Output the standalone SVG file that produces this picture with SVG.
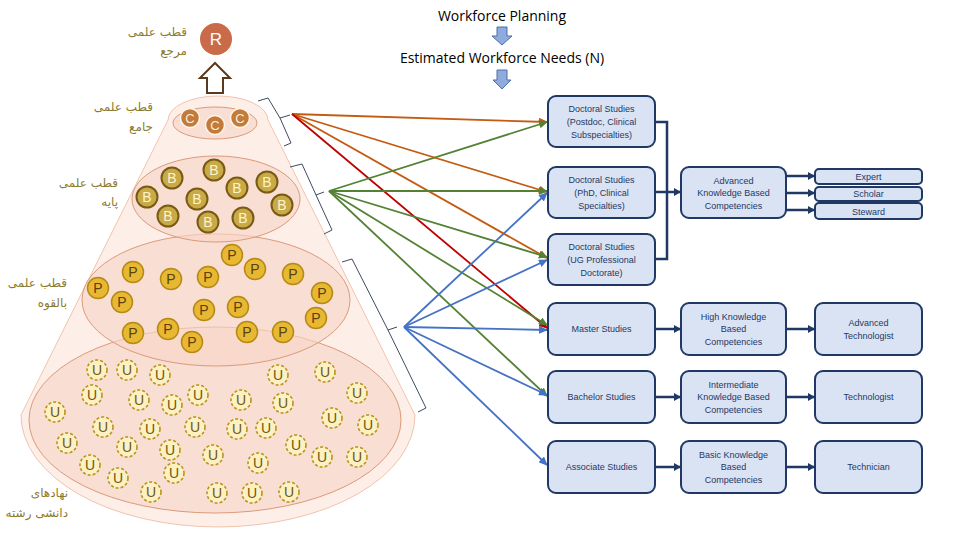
<svg xmlns="http://www.w3.org/2000/svg" width="960" height="540" viewBox="0 0 960 540">
<defs>
<style>
.fa{font-family:"DejaVu Sans","Noto Sans",sans-serif;font-size:12px;fill:#8c7b2e;text-anchor:end}
.ttl{font-family:"Open Sans","Liberation Sans",sans-serif;font-size:14px;fill:#000;text-anchor:middle}
.box{fill:#dae3f3;stroke:#1f3864;stroke-width:2}
.bt{font-family:"Liberation Sans",Arial,sans-serif;font-size:9px;fill:#1f3864;text-anchor:middle}
.lv{fill:#f8d6c8;fill-opacity:0.65;stroke:#dc9a7a;stroke-width:1}
.c circle{fill:#c27b3a;stroke:#fff6ea;stroke-width:1.5}
.c text{font-family:"Liberation Sans",sans-serif;font-size:13px;fill:#fbeed8;text-anchor:middle}
.b circle{fill:#c9aa48;stroke:#7a5a12;stroke-width:2}
.b text{font-family:"Liberation Sans",sans-serif;font-size:14px;fill:#fbf3cc;text-anchor:middle}
.p circle{fill:#e8b833;stroke:#b48a14;stroke-width:1.5}
.p text{font-family:"Liberation Sans",sans-serif;font-size:14px;fill:#5a4210;text-anchor:middle}
.u circle{fill:#fdf1c4;stroke:#b8941a;stroke-width:1.6;stroke-dasharray:3 2}
.u text{font-family:"Liberation Sans",sans-serif;font-size:14px;fill:#6e5a10;text-anchor:middle}
.nv{fill:none;stroke:#1f3864;stroke-width:2.5}
.br{fill:none;stroke:#3d4b5f;stroke-width:1}
</style>
<marker id="mN" markerWidth="7" markerHeight="8" refX="6" refY="4" orient="auto" markerUnits="userSpaceOnUse"><path d="M0,0 L7,4 L0,8 z" fill="#1f3864"/></marker>
<marker id="mO" markerWidth="9" markerHeight="8" refX="8" refY="4" orient="auto" markerUnits="userSpaceOnUse"><path d="M0,0 L9,4 L0,8 z" fill="#c55a11"/></marker>
<marker id="mR" markerWidth="9" markerHeight="8" refX="8" refY="4" orient="auto" markerUnits="userSpaceOnUse"><path d="M0,0 L9,4 L0,8 z" fill="#c00000"/></marker>
<marker id="mG" markerWidth="9" markerHeight="8" refX="8" refY="4" orient="auto" markerUnits="userSpaceOnUse"><path d="M0,0 L9,4 L0,8 z" fill="#548235"/></marker>
<marker id="mB" markerWidth="9" markerHeight="8" refX="8" refY="4" orient="auto" markerUnits="userSpaceOnUse"><path d="M0,0 L9,4 L0,8 z" fill="#4472c4"/></marker>
</defs>
<rect width="960" height="540" fill="#fff"/>

<!-- cone -->
<g id="cone">
<path d="M168,120 A50,24 0 0 1 268,120 L415,415 A197,112 0 0 1 21,415 Z" fill="#fce8df" fill-opacity="0.75" stroke="#f0c4ae" stroke-width="1"/>
<ellipse class="lv" cx="215" cy="420" rx="186" ry="93"/>
<ellipse class="lv" cx="216" cy="300" rx="134" ry="66"/>
<ellipse class="lv" cx="216" cy="199" rx="84" ry="43"/>
<ellipse class="lv" cx="215" cy="123" rx="42" ry="16"/>
</g>

<!-- R and arrow -->
<g id="R">
<circle cx="216" cy="39" r="16" fill="#c96a48"/>
<text x="216" y="45" font-family="Liberation Sans,sans-serif" font-size="17" fill="#fff" text-anchor="middle">R</text>
</g>
<g id="upArrow">
<path d="M207,93 L207,78 L200,78 L215,63 L230,78 L223,78 L223,93 Z" fill="#fff" stroke="#5a3a1e" stroke-width="2"/>
</g>

<!-- Persian labels -->
<g id="labels">
<text class="fa" x="187" y="36">قطب علمی</text>
<text class="fa" x="187" y="55">مرجع</text>
<text class="fa" x="153" y="111">قطب علمی</text>
<text class="fa" x="153" y="131">جامع</text>
<text class="fa" x="118" y="187">قطب علمی</text>
<text class="fa" x="118" y="206">پایه</text>
<text class="fa" x="67" y="287">قطب علمی</text>
<text class="fa" x="67" y="307">بالقوه</text>
<text class="fa" x="68" y="497">نهادهای</text>
<text class="fa" x="68" y="517">دانشی رشته</text>
</g>

<!-- C -->
<g id="C" class="c">
<circle cx="190" cy="118" r="9.5"/><text x="190" y="123">C</text>
<circle cx="215" cy="125" r="9.5"/><text x="215" y="130">C</text>
<circle cx="240" cy="118" r="9.5"/><text x="240" y="123">C</text>
</g>

<!-- B -->
<g id="B" class="b">
<circle cx="172" cy="178" r="10.5"/><text x="172" y="183">B</text>
<circle cx="214" cy="170" r="10.5"/><text x="214" y="175">B</text>
<circle cx="147" cy="197" r="10.5"/><text x="147" y="202">B</text>
<circle cx="197" cy="199" r="10.5"/><text x="197" y="204">B</text>
<circle cx="237" cy="188" r="10.5"/><text x="237" y="193">B</text>
<circle cx="267" cy="182" r="10.5"/><text x="267" y="187">B</text>
<circle cx="168" cy="216" r="10.5"/><text x="168" y="221">B</text>
<circle cx="208" cy="222" r="10.5"/><text x="208" y="227">B</text>
<circle cx="243" cy="218" r="10.5"/><text x="243" y="223">B</text>
<circle cx="282" cy="205" r="10.5"/><text x="282" y="210">B</text>
</g>

<!-- P -->
<g id="P" class="p">
<circle cx="232" cy="255" r="10.5"/><text x="232" y="260">P</text>
<circle cx="133" cy="272" r="10.5"/><text x="133" y="277">P</text>
<circle cx="171" cy="279" r="10.5"/><text x="171" y="284">P</text>
<circle cx="208" cy="277" r="10.5"/><text x="208" y="282">P</text>
<circle cx="255" cy="269" r="10.5"/><text x="255" y="274">P</text>
<circle cx="293" cy="274" r="10.5"/><text x="293" y="279">P</text>
<circle cx="98" cy="288" r="10.5"/><text x="98" y="293">P</text>
<circle cx="122" cy="302" r="10.5"/><text x="122" y="307">P</text>
<circle cx="322" cy="293" r="10.5"/><text x="322" y="298">P</text>
<circle cx="204" cy="310" r="10.5"/><text x="204" y="315">P</text>
<circle cx="238" cy="307" r="10.5"/><text x="238" y="312">P</text>
<circle cx="316" cy="318" r="10.5"/><text x="316" y="323">P</text>
<circle cx="133" cy="333" r="10.5"/><text x="133" y="338">P</text>
<circle cx="168" cy="329" r="10.5"/><text x="168" y="334">P</text>
<circle cx="192" cy="342" r="10.5"/><text x="192" y="347">P</text>
<circle cx="247" cy="332" r="10.5"/><text x="247" y="337">P</text>
<circle cx="283" cy="332" r="10.5"/><text x="283" y="337">P</text>
</g>

<!-- U -->
<g id="U" class="u">
<circle cx="97" cy="370" r="10"/><text x="97" y="375">U</text>
<circle cx="127" cy="370" r="10"/><text x="127" y="375">U</text>
<circle cx="160" cy="375" r="10"/><text x="160" y="380">U</text>
<circle cx="278" cy="375" r="10"/><text x="278" y="380">U</text>
<circle cx="325" cy="372" r="10"/><text x="325" y="377">U</text>
<circle cx="92" cy="395" r="10"/><text x="92" y="400">U</text>
<circle cx="139" cy="400" r="10"/><text x="139" y="405">U</text>
<circle cx="172" cy="405" r="10"/><text x="172" y="410">U</text>
<circle cx="198" cy="395" r="10"/><text x="198" y="400">U</text>
<circle cx="241" cy="400" r="10"/><text x="241" y="405">U</text>
<circle cx="283" cy="403" r="10"/><text x="283" y="408">U</text>
<circle cx="357" cy="393" r="10"/><text x="357" y="398">U</text>
<circle cx="55" cy="412" r="10"/><text x="55" y="417">U</text>
<circle cx="332" cy="418" r="10"/><text x="332" y="423">U</text>
<circle cx="368" cy="425" r="10"/><text x="368" y="430">U</text>
<circle cx="103" cy="427" r="10"/><text x="103" y="432">U</text>
<circle cx="150" cy="429" r="10"/><text x="150" y="434">U</text>
<circle cx="195" cy="427" r="10"/><text x="195" y="432">U</text>
<circle cx="237" cy="429" r="10"/><text x="237" y="434">U</text>
<circle cx="266" cy="428" r="10"/><text x="266" y="433">U</text>
<circle cx="67" cy="443" r="10"/><text x="67" y="448">U</text>
<circle cx="127" cy="447" r="10"/><text x="127" y="452">U</text>
<circle cx="170" cy="450" r="10"/><text x="170" y="455">U</text>
<circle cx="213" cy="455" r="10"/><text x="213" y="460">U</text>
<circle cx="296" cy="445" r="10"/><text x="296" y="450">U</text>
<circle cx="322" cy="457" r="10"/><text x="322" y="462">U</text>
<circle cx="357" cy="457" r="10"/><text x="357" y="462">U</text>
<circle cx="90" cy="465" r="10"/><text x="90" y="470">U</text>
<circle cx="174" cy="473" r="10"/><text x="174" y="478">U</text>
<circle cx="258" cy="463" r="10"/><text x="258" y="468">U</text>
<circle cx="118" cy="478" r="10"/><text x="118" y="483">U</text>
<circle cx="151" cy="492" r="10"/><text x="151" y="497">U</text>
<circle cx="217" cy="493" r="10"/><text x="217" y="498">U</text>
<circle cx="252" cy="493" r="10"/><text x="252" y="498">U</text>
<circle cx="289" cy="492" r="10"/><text x="289" y="497">U</text>
</g>

<!-- brackets -->
<g id="brackets" class="br">
<path d="M258,101 L268,98 L280,118 L290,115 M280,118 L291,143 L284,146"/>
<path d="M290,167 L302,164 L316,195 L324,192 M316,195 L332,230 L324,234"/>
<path d="M342,262 L352,259 L388,330 L397,327 M388,330 L426,408 L418,412"/>
</g>

<!-- title -->
<g id="title">
<text class="ttl" x="502" y="21">Workforce Planning</text>
<path d="M497,27 L507,27 L507,36 L512,36 L502,45 L492,36 L497,36 Z" fill="#8faadc" stroke="#4a6ea9" stroke-width="1"/>
<text class="ttl" x="502" y="63">Estimated Workforce Needs (N)</text>
<path d="M497,70 L507,70 L507,80 L511,80 L502,89 L493,80 L497,80 Z" fill="#8faadc" stroke="#4a6ea9" stroke-width="1"/>
</g>

<!-- connectors -->
<g id="connectors">
<g fill="none" stroke-width="1.8">
<line x1="292" y1="114" x2="547" y2="122" stroke="#c55a11" marker-end="url(#mO)"/>
<line x1="292" y1="114" x2="547" y2="192" stroke="#c55a11" marker-end="url(#mO)"/>
<line x1="292" y1="114" x2="547" y2="258" stroke="#c55a11" marker-end="url(#mO)"/>
<line x1="292" y1="114" x2="547" y2="328" stroke="#c00000" marker-end="url(#mR)"/>
<line x1="329" y1="191" x2="547" y2="122" stroke="#548235" marker-end="url(#mG)"/>
<line x1="329" y1="191" x2="547" y2="191" stroke="#548235" marker-end="url(#mG)"/>
<line x1="329" y1="191" x2="547" y2="257" stroke="#548235" marker-end="url(#mG)"/>
<line x1="329" y1="191" x2="547" y2="325" stroke="#548235" marker-end="url(#mG)"/>
<line x1="329" y1="191" x2="547" y2="396" stroke="#548235" marker-end="url(#mG)"/>
<line x1="404" y1="327" x2="547" y2="193" stroke="#4472c4" marker-end="url(#mB)"/>
<line x1="404" y1="327" x2="547" y2="260" stroke="#4472c4" marker-end="url(#mB)"/>
<line x1="404" y1="327" x2="547" y2="330" stroke="#4472c4" marker-end="url(#mB)"/>
<line x1="404" y1="327" x2="547" y2="395" stroke="#4472c4" marker-end="url(#mB)"/>
<line x1="404" y1="327" x2="547" y2="465" stroke="#4472c4" marker-end="url(#mB)"/>
</g>
<path class="nv" d="M655,122 L667,122 L667,259 L655,259"/>
<line class="nv" x1="655" y1="192" x2="680" y2="192" marker-end="url(#mN)"/>
<line class="nv" x1="786" y1="176" x2="814" y2="176" marker-end="url(#mN)"/>
<line class="nv" x1="786" y1="193" x2="814" y2="193" marker-end="url(#mN)"/>
<line class="nv" x1="786" y1="210" x2="814" y2="210" marker-end="url(#mN)"/>
<line class="nv" x1="655" y1="329" x2="680" y2="329" marker-end="url(#mN)"/>
<line class="nv" x1="786" y1="329" x2="814" y2="329" marker-end="url(#mN)"/>
<line class="nv" x1="655" y1="397" x2="680" y2="397" marker-end="url(#mN)"/>
<line class="nv" x1="786" y1="397" x2="814" y2="397" marker-end="url(#mN)"/>
<line class="nv" x1="655" y1="467" x2="680" y2="467" marker-end="url(#mN)"/>
<line class="nv" x1="786" y1="467" x2="814" y2="467" marker-end="url(#mN)"/>
</g>

<!-- column 1 -->
<g id="docPostdoc"><rect class="box" x="548" y="96" width="107" height="51" rx="8"/>
<text class="bt" x="601.5" y="112">Doctoral Studies</text><text class="bt" x="601.5" y="125">(Postdoc, Clinical</text><text class="bt" x="601.5" y="138">Subspecialties)</text></g>
<g id="docPhD"><rect class="box" x="548" y="167" width="107" height="51" rx="8"/>
<text class="bt" x="601.5" y="183">Doctoral Studies</text><text class="bt" x="601.5" y="196">(PhD, Clinical</text><text class="bt" x="601.5" y="209">Specialties)</text></g>
<g id="docUG"><rect class="box" x="548" y="234" width="107" height="51" rx="8"/>
<text class="bt" x="601.5" y="250">Doctoral Studies</text><text class="bt" x="601.5" y="263">(UG Professional</text><text class="bt" x="601.5" y="276">Doctorate)</text></g>
<g id="master"><rect class="box" x="548" y="303" width="107" height="52" rx="8"/>
<text class="bt" x="601.5" y="332">Master Studies</text></g>
<g id="bachelor"><rect class="box" x="548" y="371" width="107" height="52" rx="8"/>
<text class="bt" x="601.5" y="400">Bachelor Studies</text></g>
<g id="associate"><rect class="box" x="548" y="441" width="107" height="52" rx="8"/>
<text class="bt" x="601.5" y="470">Associate Studies</text></g>

<!-- column 2 -->
<g id="advanced"><rect class="box" x="681" y="167" width="105" height="51" rx="8"/>
<text class="bt" x="733.5" y="184">Advanced</text><text class="bt" x="733.5" y="196">Knowledge Based</text><text class="bt" x="733.5" y="209">Competencies</text></g>
<g id="high"><rect class="box" x="681" y="303" width="105" height="52" rx="8"/>
<text class="bt" x="733.5" y="320">High Knowledge</text><text class="bt" x="733.5" y="332">Based</text><text class="bt" x="733.5" y="345">Competencies</text></g>
<g id="intermediate"><rect class="box" x="681" y="371" width="105" height="52" rx="8"/>
<text class="bt" x="733.5" y="388">Intermediate</text><text class="bt" x="733.5" y="400">Knowledge Based</text><text class="bt" x="733.5" y="413">Competencies</text></g>
<g id="basic"><rect class="box" x="681" y="441" width="105" height="52" rx="8"/>
<text class="bt" x="733.5" y="458">Basic Knowledge</text><text class="bt" x="733.5" y="470">Based</text><text class="bt" x="733.5" y="483">Competencies</text></g>

<!-- column 3 -->
<g id="expert"><rect class="box" x="815" y="169" width="107" height="15" rx="4"/><text class="bt" x="868.5" y="180">Expert</text></g>
<g id="scholar"><rect class="box" x="815" y="187" width="107" height="14" rx="4"/><text class="bt" x="868.5" y="197">Scholar</text></g>
<g id="steward"><rect class="box" x="815" y="203" width="107" height="16" rx="4"/><text class="bt" x="868.5" y="215">Steward</text></g>
<g id="advTech"><rect class="box" x="815" y="303" width="107" height="52" rx="8"/>
<text class="bt" x="868.5" y="326">Advanced</text><text class="bt" x="868.5" y="339">Technologist</text></g>
<g id="tech"><rect class="box" x="815" y="371" width="107" height="52" rx="8"/>
<text class="bt" x="868.5" y="400">Technologist</text></g>
<g id="technician"><rect class="box" x="815" y="441" width="107" height="52" rx="8"/>
<text class="bt" x="868.5" y="470">Technician</text></g>
</svg>
